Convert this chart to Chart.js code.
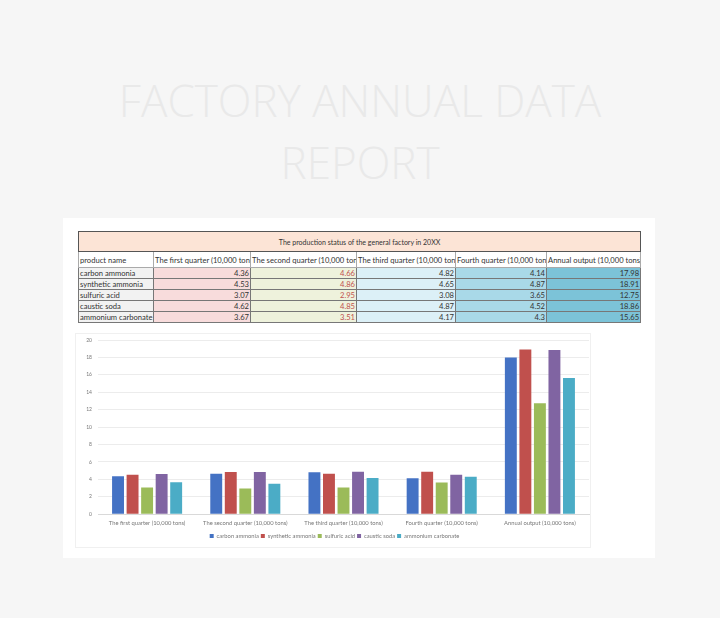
<!DOCTYPE html>
<html>
<head>
<meta charset="utf-8">
<script src="https://cdn.jsdelivr.net/npm/chart.js@4/dist/chart.umd.min.js"></script>
<style>
  body { margin: 0; width: 720px; height: 618px; background: #f6f6f6; position: relative; overflow: hidden; font-family: Lato, "Open Sans", sans-serif; }
  .title { position: absolute; left: 0; width: 720px; text-align: center; color: #e9e9e9; font-family: "Open Sans", sans-serif; font-weight: 300; font-size: 44px; line-height: 60px; }
  .card { position: absolute; left: 63px; top: 218px; width: 592px; height: 340px; background: #fff; }
  table { position: absolute; left: 78px; top: 231px; width: 562px; border-collapse: collapse; table-layout: fixed; font-size: 7.6px; color: #333; }
  td { border: 1px solid #777; padding: 0 1px; white-space: nowrap; overflow: hidden; height: 10px; line-height: 10px; }
  td.num { text-align: right; }
  .cap td { height: 19px; background: #fce4d6; text-align: center; border: 1px solid #555; font-size: 7px; }
  .hd td { height: 15px; background: #fff; border-color: #aaa; }
  .c0 { background: #f2f2f2; }
  .c1 { background: #f8dcdc; }
  .c2 { background: #eef2dc; color: #c0504d; }
  .c3 { background: #dcf0f7; }
  .c4 { background: #a9d9e8; }
  .c5 { background: #7cc3d8; }
  .chartbox { position: absolute; left: 75px; top: 333px; width: 514px; height: 213px; border: 1px solid #f0f0f0; background: #fff; }
  #myChart { position: absolute; left: 0; top: -3px; }
</style>
</head>
<body>
<div class="title" style="top:70px">FACTORY ANNUAL DATA</div>
<div class="title" style="top:132px">REPORT</div>
<div class="card"></div>
<table id="tbl"></table>
<div class="chartbox"><canvas id="myChart" width="514" height="218"></canvas></div>
<script>
var categorias = ['The first quarter (10,000 tons)', 'The second quarter (10,000 tons)', 'The third quarter (10,000 tons)', 'Fourth quarter (10,000 tons)', 'Annual output (10,000 tons)'];
var productos = ['carbon ammonia', 'synthetic ammonia', 'sulfuric acid', 'caustic soda', 'ammonium carbonate'];
var carbonAmmonia = [4.36, 4.66, 4.82, 4.14, 17.98];
var syntheticAmmonia = [4.53, 4.86, 4.65, 4.87, 18.91];
var sulfuricAcid = [3.07, 2.95, 3.08, 3.65, 12.75];
var causticSoda = [4.62, 4.85, 4.87, 4.52, 18.86];
var ammoniumCarbonate = [3.67, 3.51, 4.17, 4.3, 15.65];
var colores = ['#4472c4', '#c0504d', '#9bbb59', '#8064a2', '#4bacc6'];
var series = [carbonAmmonia, syntheticAmmonia, sulfuricAcid, causticSoda, ammoniumCarbonate];

// tabla
var anchos = [75, 97, 106, 99, 91, 94];
var html = '<colgroup>';
for (var i = 0; i < anchos.length; i++) html += '<col style="width:' + anchos[i] + 'px">';
html += '</colgroup>';
html += '<tr class="cap"><td colspan="6">The production status of the general factory in 20XX</td></tr>';
html += '<tr class="hd"><td>product name</td>';
for (var i = 0; i < categorias.length; i++) html += '<td>' + categorias[i] + '</td>';
html += '</tr>';
for (var r = 0; r < productos.length; r++) {
  html += '<tr><td class="c0">' + productos[r] + '</td>';
  for (var c = 0; c < categorias.length; c++) {
    html += '<td class="num c' + (c + 1) + '">' + series[r][c] + '</td>';
  }
  html += '</tr>';
}
document.getElementById('tbl').innerHTML = html;

var datasets = [];
for (var i = 0; i < productos.length; i++) {
  datasets.push({
    label: productos[i],
    data: series[i],
    backgroundColor: colores[i],
    borderWidth: 0,
    categoryPercentage: 0.74,
    barPercentage: 0.82
  });
}

new Chart(document.getElementById('myChart'), {
  type: 'bar',
  data: { labels: categorias, datasets: datasets },
  options: {
    responsive: false,
    animation: false,
    layout: { padding: { left: 4, right: 1, top: 0, bottom: 0 } },
    plugins: {
      legend: {
        position: 'bottom',
        labels: { boxWidth: 4, boxHeight: 4, padding: 2, color: '#777', font: { size: 5.8, family: 'Lato' } }
      },
      tooltip: { enabled: false }
    },
    scales: {
      y: {
        min: 0, max: 20,
        ticks: { stepSize: 2, color: '#777', font: { size: 5, family: 'Lato' }, padding: 6 },
        grid: { color: '#ececec', drawTicks: false },
        border: { display: false },
        afterFit: function (s) { s.width = 18; }
      },
      x: {
        ticks: { color: '#777', font: { size: 5.8, family: 'Lato' }, maxRotation: 0, padding: 5 },
        grid: { display: false, drawTicks: false },
        border: { color: '#d9d9d9' }
      }
    }
  }
});
</script>
</body>
</html>
